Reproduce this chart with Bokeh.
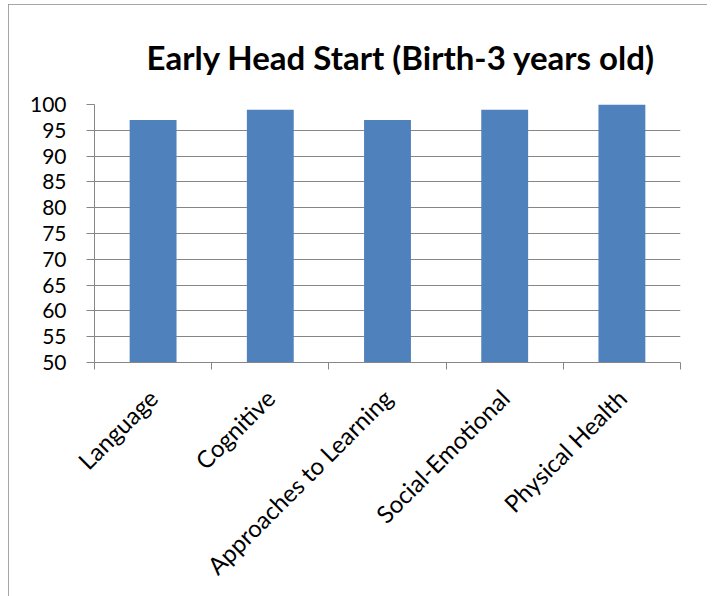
import math
from bokeh.plotting import figure
from bokeh.models import Range1d, FixedTicker
from bokeh.embed import file_html
from bokeh.resources import INLINE

categories = ["Language", "Cognitive", "Approaches to Learning", "Social-Emotional", "Physical Health"]
values = [97, 99, 97, 99, 100]
y_ticks = [50, 55, 60, 65, 70, 75, 80, 85, 90, 95, 100]
title_text = "Early Head Start (Birth-3 years old)"

FONT = "Lato"
GRAY = "#868686"

n = len(categories)
centers = [i + 0.5 for i in range(n)]
bounds = list(range(n + 1))

p = figure(width=699, height=592, x_range=Range1d(0, n), y_range=Range1d(50, 100),
           output_backend="svg", toolbar_location=None,
           min_border_left=86, min_border_right=27, min_border_top=100, min_border_bottom=234)
p.styles = {"outline": "1px solid #898989", "outline-offset": "-1px",
            "margin-left": "8px", "margin-top": "4px"}

p.title.text = title_text
p.title.text_font = FONT
p.title.text_font_size = "33px"
p.title.text_font_style = "bold"
p.title.text_color = "black"
p.title.align = "left"
p.title.offset = 52
p.title.standoff = 55

p.outline_line_color = None
p.background_fill_color = "white"
p.border_fill_color = "white"

p.vbar(x=centers, top=values, bottom=0, width=0.4, fill_color="#4F81BD", line_color=None)

# y axis
ya = p.yaxis[0]
ya.ticker = FixedTicker(ticks=y_ticks)
ya.axis_line_color = GRAY
ya.major_tick_line_color = GRAY
ya.major_tick_out = 8
ya.major_tick_in = 0
ya.minor_tick_line_color = None
ya.major_label_text_font = FONT
ya.major_label_text_font_size = "21px"
ya.major_label_text_color = "black"
ya.major_label_standoff = 20

p.ygrid.grid_line_color = GRAY
p.ygrid.ticker = FixedTicker(ticks=y_ticks)
p.xgrid.grid_line_color = None

# x axis: labels at category centres, tick marks at category boundaries
xa = p.xaxis[0]
xa.ticker = FixedTicker(ticks=centers, minor_ticks=bounds)
xa.major_label_overrides = {c: name for c, name in zip(centers, categories)}
xa.axis_line_color = GRAY
xa.major_tick_line_color = None
xa.major_tick_out = 0
xa.major_tick_in = 0
xa.minor_tick_line_color = GRAY
xa.minor_tick_out = 7
xa.minor_tick_in = 0
xa.major_label_orientation = math.pi / 4
xa.major_label_text_font = FONT
xa.major_label_text_font_size = "24px"
xa.major_label_text_color = "black"
xa.major_label_standoff = 24

open("out.html", "w").write(file_html(p, INLINE))
